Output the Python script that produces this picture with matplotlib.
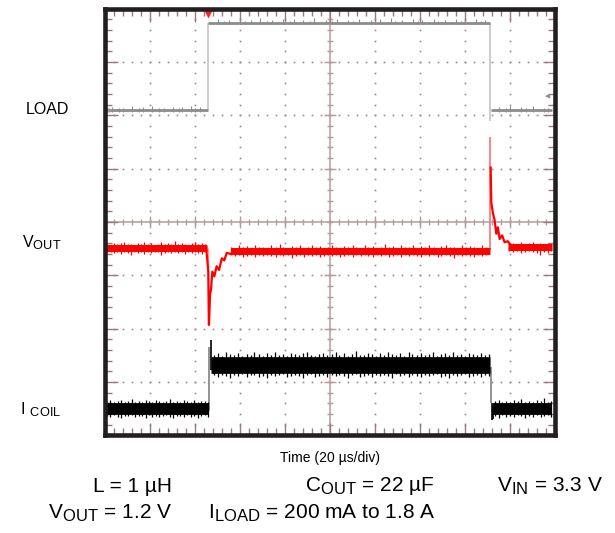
import numpy as np
import matplotlib
matplotlib.use("Agg")
import matplotlib.pyplot as plt
import matplotlib._mathtext as mathtext_impl

plt.rcParams['font.family'] = ['Liberation Sans', 'DejaVu Sans']
plt.rcParams['mathtext.fontset'] = 'custom'
plt.rcParams['mathtext.rm'] = 'Liberation Sans'
# the scope labels use bigger subscripts than mathtext's default
mathtext_impl.SHRINK_FACTOR = 0.8

# scope screen: time in us (20 us/div), vertical in divisions
T_MIN, T_MAX = -100, 100
V_MIN, V_MAX = -4, 4

# LOAD trace (gray) - levels and edges
load_lvl_t0 = [-99.5, -54.3, 71.4]
load_lvl_t1 = [-54.3, 71.1, 98.5]
load_lvl_v = [2.10, 3.74, 2.10]
load_edge_t = [-54.3, 71.1]
load_edge_lo = [2.10, 1.89]
load_edge_hi = [3.74, 3.74]
load_spk_t = [-97, -94, -92, -88, -85, -83, -79, -76, -74, -70, -67, -66, -62, -60, -58,
              -50, -47, -45, -40, -38, -35, -31, -28, -26, -21, -18, -16, -12, -9, -7,
              -2, 1, 3, 8, 10, 13, 18, 20, 22, 27, 29, 32, 37, 39, 41, 46, 48, 51, 56,
              58, 60, 65, 67, 69,
              75, 78, 80, 85, 87, 90, 95, 97]
load_spk_top = [2.16, 2.13, 2.14, 2.17, 2.13, 2.15, 2.18, 2.13, 2.14, 2.16, 2.13, 2.15, 2.17, 2.13, 2.15,
                3.80, 3.77, 3.78, 3.81, 3.77, 3.79, 3.82, 3.77, 3.78, 3.80, 3.77, 3.81, 3.79, 3.77, 3.82,
                3.78, 3.77, 3.80, 3.79, 3.77, 3.81, 3.78, 3.77, 3.80, 3.82, 3.77, 3.79, 3.80, 3.77, 3.78,
                3.81, 3.77, 3.79, 3.80, 3.77, 3.78, 3.81, 3.77, 3.79,
                2.16, 2.13, 2.18, 2.15, 2.13, 2.17, 2.14, 2.13]

# VOUT trace (red)
vout_lvl_t0 = [-99.5, -44.0, 79.0]
vout_lvl_t1 = [-54.6, 70.9, 98.5]
vout_lvl_v = [-0.49, -0.545, -0.478]
vout_spk_t = [-99.0, -97.5, -96.0, -94.5, -93.0, -91.5, -90.0, -88.5, -87.0, -85.5,
              -84.0, -82.5, -81.0, -79.5, -78.0, -76.5, -75.0, -73.5, -72.0, -70.5,
              -69.0, -67.5, -66.0, -64.5, -63.0, -61.5, -60.0, -58.5, -57.0, -55.5,
              -44.0, -42.3, -40.5, -38.6, -36.9, -35.0, -33.2, -31.5, -29.6, -27.8,
              -26.1, -24.2, -22.4, -20.7, -18.8, -17.0, -15.3, -13.4, -11.6, -9.9,
              -8.0, -6.2, -4.5, -2.6, -0.8, 0.9, 2.8, 4.6, 6.3, 8.2,
              10.0, 11.7, 13.6, 15.4, 17.1, 19.0, 20.8, 22.5, 24.4, 26.2,
              27.9, 29.8, 31.6, 33.3, 35.2, 37.0, 38.7, 40.6, 42.4, 44.1,
              46.0, 47.8, 49.5, 51.4, 53.2, 54.9, 56.8, 58.6, 60.3, 62.2,
              64.0, 65.7, 67.6, 69.4,
              79.5, 81.3, 83.0, 84.8, 86.5, 88.3, 90.0, 91.8, 93.5, 95.3, 97.0, 98.3]
vout_spk_top = [-0.41, -0.43, -0.39, -0.42, -0.40, -0.37, -0.42, -0.41, -0.43, -0.39,
                -0.41, -0.38, -0.42, -0.40, -0.43, -0.41, -0.38, -0.42, -0.40, -0.41,
                -0.35, -0.42, -0.39, -0.41, -0.43, -0.40, -0.38, -0.42, -0.40, -0.41,
                -0.46, -0.48, -0.44, -0.47, -0.45, -0.49, -0.43, -0.47, -0.46, -0.48,
                -0.44, -0.47, -0.42, -0.46, -0.48, -0.45, -0.47, -0.44, -0.48, -0.46,
                -0.43, -0.47, -0.45, -0.48, -0.46, -0.44, -0.47, -0.49, -0.45, -0.47,
                -0.43, -0.46, -0.48, -0.44, -0.47, -0.45, -0.48, -0.46, -0.42, -0.47,
                -0.45, -0.48, -0.44, -0.46, -0.47, -0.43, -0.48, -0.45, -0.47, -0.44,
                -0.46, -0.48, -0.45, -0.43, -0.47, -0.46, -0.48, -0.44, -0.47, -0.45,
                -0.46, -0.48, -0.44, -0.47,
                -0.42, -0.39, -0.41, -0.38, -0.42, -0.40, -0.37, -0.41, -0.39, -0.42, -0.40, -0.41]
vout_spk_bot = [-0.57, -0.56, -0.59, -0.57, -0.60, -0.56, -0.58, -0.61, -0.56, -0.58,
                -0.57, -0.60, -0.56, -0.59, -0.57, -0.56, -0.61, -0.58, -0.56, -0.59,
                -0.57, -0.58, -0.56, -0.60, -0.57, -0.59, -0.56, -0.58, -0.60, -0.57,
                -0.62, -0.64, -0.61, -0.65, -0.63, -0.61, -0.66, -0.62, -0.64, -0.61,
                -0.63, -0.65, -0.62, -0.64, -0.61, -0.67, -0.63, -0.62, -0.65, -0.61,
                -0.64, -0.62, -0.66, -0.63, -0.61, -0.64, -0.62, -0.65, -0.63, -0.61,
                -0.66, -0.62, -0.64, -0.61, -0.63, -0.65, -0.62, -0.64, -0.61, -0.66,
                -0.63, -0.62, -0.65, -0.61, -0.64, -0.62, -0.63, -0.66, -0.61, -0.64,
                -0.62, -0.65, -0.63, -0.61, -0.64, -0.67, -0.62, -0.64, -0.61, -0.63,
                -0.65, -0.62, -0.64, -0.61,
                -0.55, -0.57, -0.55, -0.58, -0.56, -0.55, -0.57, -0.59, -0.61, -0.56, -0.58, -0.55]
vout_dip_t = [-55.0, -54.1, -53.8, -53.3, -52.9, -52.3, -51.4, -50.4, -49.3, -48.1,
              -47.0, -45.9, -44.0, -42.2]
vout_dip_v = [-0.49, -0.93, -1.93, -1.35, -1.27, -0.93, -1.02, -0.83, -0.90, -0.68,
              -0.72, -0.58, -0.60, -0.55]
vout_ovs_t = [71.4, 71.7, 72.4, 73.1, 73.9, 74.6, 75.4, 76.5, 77.6, 79.0, 80.0, 82.2]
vout_ovs_v = [1.02, 0.36, 0.17, 0.05, -0.22, -0.10, -0.32, -0.25, -0.38, -0.36, -0.42, -0.47]

# ICOIL trace (black)
icoil_lvl_t0 = [-99.5, -53.0, 72.6]
icoil_lvl_t1 = [-53.8, 71.2, 98.5]
icoil_lvl_v = [-3.50, -2.68, -3.50]
icoil_lvl_w = [8.5, 12.0, 8.5]
icoil_spk_t = [-99.2, -97.6, -96.1, -94.4, -92.9, -91.3, -89.8, -88.2, -86.7, -85.1,
               -83.6, -82.0, -80.5, -78.9, -77.4, -75.8, -74.3, -72.7, -71.2, -69.6,
               -68.1, -66.5, -65.0, -63.4, -61.9, -60.3, -58.8, -57.2, -55.7, -54.3,
               -51.5, -49.7, -48.0, -46.1, -44.4, -42.5, -40.7, -39.0, -37.1, -35.3,
               -33.6, -31.7, -29.9, -28.2, -26.3, -24.5, -22.8, -20.9, -19.1, -17.4,
               -15.5, -13.7, -12.0, -10.1, -8.3, -6.6, -4.7, -2.9, -1.2, 0.7,
               2.5, 4.2, 6.1, 7.9, 9.6, 11.5, 13.3, 15.0, 16.9, 18.7,
               20.4, 22.3, 24.1, 25.8, 27.7, 29.5, 31.2, 33.1, 34.9, 36.6,
               38.5, 40.3, 42.0, 43.9, 45.7, 47.4, 49.3, 51.1, 52.8, 54.7,
               56.5, 58.2, 60.1, 61.9, 63.6, 65.5, 67.3, 69.0, 70.6,
               73.2, 74.9, 76.6, 78.3, 80.0, 81.7, 83.4, 85.1, 86.8, 88.5,
               90.2, 91.9, 93.6, 95.3, 97.0, 98.3]
icoil_spk_top = [-3.37, -3.34, -3.38, -3.35, -3.33, -3.37, -3.36, -3.32, -3.38, -3.35,
                 -3.37, -3.34, -3.36, -3.38, -3.33, -3.36, -3.37, -3.35, -3.32, -3.37,
                 -3.35, -3.38, -3.34, -3.36, -3.37, -3.33, -3.38, -3.35, -3.36, -3.37,
                 -2.49, -2.46, -2.51, -2.44, -2.48, -2.50, -2.45, -2.52, -2.47, -2.49,
                 -2.43, -2.48, -2.51, -2.46, -2.49, -2.44, -2.50, -2.47, -2.52, -2.45,
                 -2.48, -2.50, -2.46, -2.43, -2.49, -2.51, -2.47, -2.45, -2.50, -2.48,
                 -2.44, -2.49, -2.46, -2.51, -2.47, -2.42, -2.49, -2.50, -2.45, -2.48,
                 -2.51, -2.46, -2.49, -2.44, -2.48, -2.50, -2.46, -2.52, -2.43, -2.48,
                 -2.50, -2.45, -2.49, -2.47, -2.44, -2.51, -2.48, -2.46, -2.50, -2.43,
                 -2.49, -2.47, -2.51, -2.45, -2.48, -2.50, -2.46, -2.49, -2.47,
                 -3.36, -3.33, -3.37, -3.35, -3.38, -3.34, -3.36, -3.32, -3.37, -3.35,
                 -3.38, -3.33, -3.36, -3.30, -3.37, -3.35]
icoil_spk_bot = [-3.63, -3.66, -3.62, -3.65, -3.67, -3.63, -3.64, -3.62, -3.66, -3.64,
                 -3.63, -3.67, -3.62, -3.65, -3.63, -3.66, -3.64, -3.62, -3.65, -3.68,
                 -3.63, -3.64, -3.66, -3.62, -3.65, -3.63, -3.67, -3.64, -3.62, -3.65,
                 -2.87, -2.90, -2.86, -2.89, -2.92, -2.86, -2.88, -2.85, -2.91, -2.87,
                 -2.86, -2.90, -2.88, -2.93, -2.86, -2.89, -2.87, -2.85, -2.91, -2.88,
                 -2.86, -2.89, -2.92, -2.87, -2.85, -2.90, -2.88, -2.86, -2.91, -2.87,
                 -2.89, -2.86, -2.88, -2.93, -2.87, -2.85, -2.90, -2.88, -2.86, -2.91,
                 -2.87, -2.89, -2.86, -2.88, -2.92, -2.85, -2.89, -2.87, -2.90, -2.86,
                 -2.88, -2.91, -2.86, -2.89, -2.87, -2.85, -2.90, -2.88, -2.92, -2.86,
                 -2.89, -2.87, -2.85, -2.90, -2.88, -2.86, -2.91, -2.87, -2.88,
                 -3.64, -3.67, -3.62, -3.65, -3.63, -3.66, -3.62, -3.64, -3.67, -3.63,
                 -3.65, -3.62, -3.66, -3.64, -3.62, -3.65]
icoil_edge_t = [-53.6, -53.1, 71.4, 71.9, 72.5]
icoil_edge_lo = [-3.55, -2.78, -3.40, -3.72, -3.70]
icoil_edge_hi = [-2.35, -2.21, -2.72, -3.40, -3.45]
icoil_edge_c = ['#808080', '#000000', '#808080', '#000000', '#000000']

GRID_C = '#a08686'
AXIS_C = '#b49c9c'

fig = plt.figure(figsize=(6.15, 5.33), dpi=100)
ax = fig.add_axes([105 / 615, (533 - 435.3) / 533, 450 / 615, 426.6 / 533])
ax.set_xlim(T_MIN, T_MAX)
ax.set_ylim(V_MIN, V_MAX)

# dotted graticule
major_x = [t for t in range(-80, 100, 20) if t != 0]
major_y = [v for v in range(-3, 4) if v != 0]
minor_x = np.arange(-96, 100, 4)
minor_y = np.arange(-3.8, 4.0, 0.2)
for mx in major_x:
    ax.plot([mx] * len(minor_y), minor_y, ls='none', marker='s', ms=1.2,
            mec='none', mfc=GRID_C, zorder=1)
for my in major_y:
    ax.plot(minor_x, [my] * len(minor_x), ls='none', marker='s', ms=1.2,
            mec='none', mfc=GRID_C, zorder=1)

# centre cross with ticks
ax.axhline(0, color=AXIS_C, lw=1.1, zorder=1)
ax.axvline(0, color=AXIS_C, lw=1.1, zorder=1)
ax.plot(minor_x, np.zeros(len(minor_x)), ls='none', marker='|', ms=5, mew=1.0,
        color=AXIS_C, zorder=1)
ax.plot(major_x, np.zeros(len(major_x)), ls='none', marker='|', ms=9, mew=1.0,
        color=AXIS_C, zorder=1)
ax.plot(np.zeros(len(minor_y)), minor_y, ls='none', marker='_', ms=5, mew=1.0,
        color=AXIS_C, zorder=1)
ax.plot(np.zeros(len(major_y)), major_y, ls='none', marker='_', ms=9, mew=1.0,
        color=AXIS_C, zorder=1)

# LOAD
ax.vlines(load_edge_t, load_edge_lo, load_edge_hi, color='#c4c4c4', lw=1.2, zorder=3)
ax.hlines(load_lvl_v, load_lvl_t0, load_lvl_t1, color='#8c8c8c', lw=2.0, zorder=3)
ax.vlines(load_spk_t, [2.07 if v < 3 else 3.71 for v in load_spk_top], load_spk_top,
          color='#8c8c8c', lw=0.8, zorder=3)

# VOUT
ax.vlines([-54.1], [-1.93], [-0.49], color='#ff9a9a', lw=1.0, zorder=3)
ax.vlines([71.1], [-0.53], [1.60], color='#ff7070', lw=1.2, zorder=3)
for t0, t1, v in zip(vout_lvl_t0, vout_lvl_t1, vout_lvl_v):
    ax.plot([t0, t1], [v, v], color='#ff0000', lw=5.0, solid_capstyle='butt', zorder=3)
ax.vlines(vout_spk_t, vout_spk_bot, vout_spk_top, color='#ff0000', lw=0.9, zorder=3)
ax.plot(vout_dip_t, vout_dip_v, color='#ff0000', lw=1.6, zorder=3)
ax.plot(vout_ovs_t, vout_ovs_v, color='#ff0000', lw=1.6, zorder=3)

# ICOIL
ax.vlines(icoil_edge_t, icoil_edge_lo, icoil_edge_hi, colors=icoil_edge_c, lw=1.2, zorder=3)
for t0, t1, v, w in zip(icoil_lvl_t0, icoil_lvl_t1, icoil_lvl_v, icoil_lvl_w):
    ax.plot([t0, t1], [v, v], color='#000000', lw=w, solid_capstyle='butt', zorder=3)
ax.vlines(icoil_spk_t, icoil_spk_bot, icoil_spk_top, color='#000000', lw=0.9, zorder=3)

# markers: trigger, channel refs, arrow
ax.plot([-54.2], [3.90], marker='v', ms=6, color='#ff2020', mec='none', zorder=5,
        clip_on=False)
ax.plot([-98.6], [2.10], marker='s', ms=3, color='#9a9a9a', mec='none', zorder=4)
ax.plot([-98.6], [-0.49], marker='s', ms=4, color='#ff0000', mec='none', zorder=4)
ax.plot([-98.6], [-3.50], marker='s', ms=4, color='#000000', mec='none', zorder=4)
ax.annotate('', xy=(94.3, 2.36), xytext=(99.0, 2.36),
            arrowprops=dict(arrowstyle='-|>', color='#909090', lw=0.8,
                            mutation_scale=6))

# frame and edge ticks
for s in ax.spines.values():
    s.set_linewidth(3.3)
    s.set_color('#231f20')
    s.set_zorder(6)
ax.set_xticks(range(-80, 100, 20))
ax.set_yticks(range(-3, 4))
ax.set_xticks(minor_x, minor=True)
ax.set_yticks(minor_y, minor=True)
ax.tick_params(which='both', direction='in', top=True, right=True,
               labelbottom=False, labelleft=False, color='#9a7a7a', width=1.0)
ax.tick_params(which='major', length=9)
ax.tick_params(which='minor', length=5.3)

# labels
def ftext(x, y, s, **kw):
    fig.text(x / 615, 1 - y / 533, s, **kw)

ftext(47, 110, 'LOAD', ha='center', va='center', fontsize=11.5)
ftext(22, 243, r'$\mathregular{V_{OUT}}$', ha='left', va='center', fontsize=11.5)
ftext(20, 410, r'$\mathregular{I\ _{COIL}}$', ha='left', va='center', fontsize=11.5)
ftext(330, 458, 'Time (20 µs/div)', ha='center', va='center', fontsize=10)
ftext(172, 486, 'L = 1 µH', ha='right', va='center', fontsize=15)
ftext(435, 486, r'$\mathregular{C_{OUT}}$ = 22 µF', ha='right', va='center', fontsize=15)
ftext(603, 486, r'$\mathregular{V_{IN}}$ = 3.3 V', ha='right', va='center', fontsize=15)
ftext(172, 513, r'$\mathregular{V_{OUT}}$ = 1.2 V', ha='right', va='center', fontsize=15)
ftext(435, 513, r'$\mathregular{I_{LOAD}}$ = 200 mA to 1.8 A', ha='right', va='center',
      fontsize=15)

fig.savefig('out.png', dpi=100)
